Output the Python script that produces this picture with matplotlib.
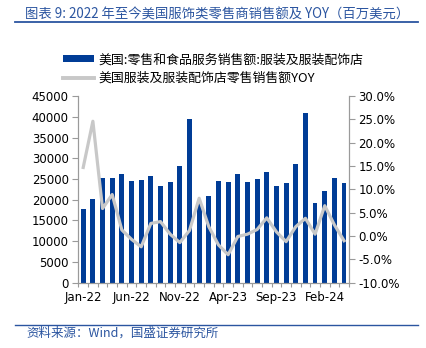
import numpy as np
import matplotlib.pyplot as plt
from matplotlib.ticker import FixedLocator, FuncFormatter
from matplotlib.lines import Line2D
from matplotlib.patches import Patch

plt.rcParams['font.family'] = ['DejaVu Sans', 'Noto Sans CJK SC']

# 月度数据：2022-01 至 2024-04
months = ["Jan-22", "Feb-22", "Mar-22", "Apr-22", "May-22", "Jun-22", "Jul-22",
          "Aug-22", "Sep-22", "Oct-22", "Nov-22", "Dec-22", "Jan-23", "Feb-23",
          "Mar-23", "Apr-23", "May-23", "Jun-23", "Jul-23", "Aug-23", "Sep-23",
          "Oct-23", "Nov-23", "Dec-23", "Jan-24", "Feb-24", "Mar-24", "Apr-24"]
sales = [17800, 20100, 25240, 25320, 26200, 24440, 24680, 25800, 23230, 24360,
         28140, 39470, 19300, 20850, 24600, 24320, 26200, 24360, 24920, 26770,
         23390, 23950, 28620, 40840, 19130, 22030, 25160, 24040]
yoy = [14.7, 24.6, 5.9, 8.9, 1.3, -0.7, -2.3, 2.7, 3.1, 0.4, -1.4, 1.2, 8.1,
       2.0, -1.9, -4.0, -0.1, 0.4, 1.4, 3.9, 0.9, -1.2, 2.0, 3.8, 0.4, 6.5,
       2.4, -1.0]

label_sales = "美国:零售和食品服务销售额:服装及服装配饰店"
label_yoy = "美国服装及服装配饰店零售销售额YOY"
title = "图表 9: 2022 年至今美国服饰类零售商销售额及 YOY（百万美元）"
source = "资料来源：Wind，国盛证券研究所"

BLUE = "#003c96"
GRAY = "#c8c8c8"
AXIS = "#9a9a9a"
TXT_BLUE = "#2b55a0"

fig = plt.figure(figsize=(4.26, 3.48), dpi=100)
ax = fig.add_axes([0.184, 0.1876, 0.635, 0.5364])
ax2 = ax.twinx()

x = np.arange(len(months))
ax.bar(x, sales, width=0.5, color=BLUE, zorder=2)
ax2.plot(x, yoy, color=GRAY, lw=2.3, solid_joinstyle="round", zorder=3)

ax.set_xlim(-0.5, len(months) - 0.5)
ax.set_ylim(0, 45000)
ax.set_yticks(np.arange(0, 45001, 5000))
ax2.set_ylim(-10, 30)
ax2.set_yticks(np.arange(-10, 30.1, 5))
ax2.yaxis.set_major_formatter(FuncFormatter(lambda v, p: f"{v:.1f}%"))

# 刻度线在月份之间，标签每 5 个月一个
ax.xaxis.set_major_locator(FixedLocator(np.arange(-0.5, len(months), 1)))
ax.xaxis.set_major_formatter(FuncFormatter(lambda v, p: ""))
ax.set_xticks(x[::5], [months[i] for i in x[::5]], minor=True)
ax.tick_params(axis="x", which="major", length=3, color=AXIS, direction="out")
ax.tick_params(axis="x", which="minor", length=0, pad=6, labelsize=8.5)
ax.tick_params(axis="y", length=4, color=AXIS, labelsize=8.5, pad=3)
ax2.tick_params(axis="y", length=4, color=AXIS, labelsize=8.5, pad=3)

for a in (ax, ax2):
    a.spines["top"].set_visible(False)
    for s in ("left", "right", "bottom"):
        a.spines[s].set_color(AXIS)
        a.spines[s].set_linewidth(0.8)
ax2.set_zorder(ax.zorder + 1)
ax2.patch.set_visible(False)

handles = [Patch(facecolor=BLUE, edgecolor="none"),
           Line2D([], [], color=GRAY, lw=2.8)]
fig.legend(handles, [label_sales, label_yoy], loc="upper left",
           bbox_to_anchor=(0.135, 0.862), frameon=False,
           handlelength=2.4, handleheight=0.5, handletextpad=0.35,
           labelspacing=0.45, borderaxespad=0,
           prop={"family": ["Noto Sans CJK SC"], "size": 9.3})

fig.text(0.058, 0.978, title, color=TXT_BLUE, fontsize=9.6, style="italic",
         family=["Noto Sans CJK SC"], ha="left", va="top")
fig.add_artist(Line2D([0.035, 0.982], [0.938, 0.938], color=TXT_BLUE, lw=1.3))
fig.add_artist(Line2D([0.035, 0.982], [0.066, 0.066], color=TXT_BLUE, lw=1.0))
fig.text(0.063, 0.043, source, color=TXT_BLUE, fontsize=9, style="italic",
         family=["Noto Sans CJK SC"], ha="left", va="center")

fig.savefig("out.png", dpi=100)
